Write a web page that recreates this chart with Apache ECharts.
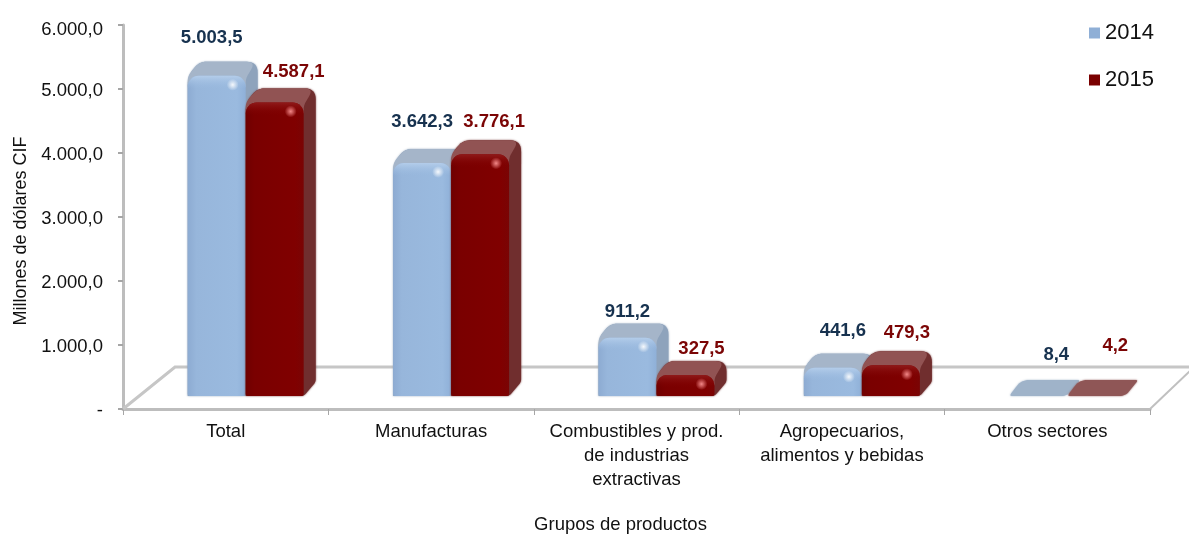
<!DOCTYPE html>
<html>
<head>
<meta charset="utf-8">
<style>html,body{margin:0;padding:0;background:#fff}#c{width:1189px;height:534px}</style>
<script src="https://cdn.jsdelivr.net/npm/echarts@6/dist/echarts.min.js"></script>
</head>
<body>
<div id="c"></div>
<script>
const categories = ['Total', 'Manufacturas', 'Combustibles y prod.\nde industrias\nextractivas', 'Agropecuarios,\nalimentos y bebidas', 'Otros sectores'];
const values2014 = [5003.5, 3642.3, 911.2, 441.6, 8.4];
const values2015 = [4587.1, 3776.1, 327.5, 479.3, 4.2];
const yTicks = { min: 0, max: 6000, interval: 1000 };

// Hand-placed data label nudges from the reference (px from the bar's front top centre)
const labelNudge2014 = [[-5, -38], [0, -41], [0, -26], [10, -37], [18, -41]];
const labelNudge2015 = [[19, -31], [14, -32], [16, -26], [16, -32], [19, -50]];

const FONT = '"Liberation Sans", Arial, sans-serif';
const DEPTH_X = 12, DEPTH_Y = 14, BAR_W_FRAC = 58 / 205.4, BAR_SHIFT = 20, BASE_LIFT = 13;

const fmt = v => {
  const [a, b] = v.toFixed(1).split('.');
  return a.replace(/\B(?=(\d{3})+$)/g, '.') + ',' + b;
};

// polygon with rounded corners, sampled into points
function roundPoly(pts, radii) {
  const out = [], n = pts.length;
  for (let i = 0; i < n; i++) {
    const p = pts[i], a = pts[(i + n - 1) % n], b = pts[(i + 1) % n];
    const la = Math.hypot(a[0] - p[0], a[1] - p[1]), lb = Math.hypot(b[0] - p[0], b[1] - p[1]);
    const r = Math.min(radii[i] || 0, la / 2, lb / 2);
    if (r < 0.5) { out.push(p); continue; }
    const s = [p[0] + (a[0] - p[0]) * r / la, p[1] + (a[1] - p[1]) * r / la];
    const e = [p[0] + (b[0] - p[0]) * r / lb, p[1] + (b[1] - p[1]) * r / lb];
    for (let t = 0; t <= 1.001; t += 0.125) {
      const u = 1 - t;
      out.push([u * u * s[0] + 2 * u * t * p[0] + t * t * e[0], u * u * s[1] + 2 * u * t * p[1] + t * t * e[1]]);
    }
  }
  return out;
}

const lin = (x, y, x2, y2, stops) => new echarts.graphic.LinearGradient(x, y, x2, y2, stops.map(s => ({ offset: s[0], color: s[1] })));

function barRenderer(pal, side, nudges) {
  return function (params, api) {
    const i = api.value(0), v = api.value(1);
    const c = api.coord([i, 0]), t = api.coord([i, v]);
    const w = api.size([1, 0])[0] * BAR_W_FRAC;
    const yb = c[1] - BASE_LIFT, yt = yb - (c[1] - t[1]);
    const x0 = side < 0 ? c[0] + BAR_SHIFT - w : c[0] + BAR_SHIFT;
    const x1 = x0 + w, h = yb - yt;
    const kids = [];
    if (h < 3) {
      const dy = DEPTH_Y + 2;
      kids.push({
        type: 'polygon',
        shape: { points: roundPoly([[x0, yb], [x0 + DEPTH_X, yb - dy], [x1 + DEPTH_X + 1, yb - dy], [x1, yb]], [3, 8, 3, 6]) },
        style: { fill: pal.flat, shadowBlur: 2, shadowColor: pal.flat }
      });
    } else {
      const r = Math.min(11, h / 2);
      kids.push({
        type: 'polygon',
        shape: { points: roundPoly([[x0, yb], [x0, yt], [x0 + DEPTH_X, yt - DEPTH_Y], [x1 + DEPTH_X, yt - DEPTH_Y], [x1 + DEPTH_X, yb - DEPTH_Y], [x1, yb]], [0, 12, 7, 11, 3, 3]) },
        style: { fill: pal.side, shadowBlur: 2, shadowColor: pal.side }
      });
      kids.push({
        type: 'polygon',
        shape: { points: roundPoly([[x0, yt + r], [x0, yt], [x0 + DEPTH_X, yt - DEPTH_Y], [x1 + DEPTH_X - 2, yt - DEPTH_Y], [x1, yt + 3], [x1, yt + r]], [0, 12, 7, 9, 5, 0]) },
        style: { fill: pal.top }
      });
      kids.push({
        type: 'rect',
        shape: { x: x0, y: yt, width: w, height: h, r: [r, r, 2, 2] },
        style: { fill: lin(0, 0, 1, 0, pal.front) }
      });
      kids.push({
        type: 'rect',
        shape: { x: x0, y: yt, width: w, height: Math.min(h, 13), r: [r, r, 0, 0] },
        style: { fill: lin(0, 0, 0, 1, pal.bevel) }
      });
      kids.push({
        type: 'circle',
        shape: { cx: x1 - 13, cy: yt + Math.min(9, h / 2), r: 6 },
        style: { fill: new echarts.graphic.RadialGradient(0.5, 0.5, 0.5, [{ offset: 0, color: pal.glint }, { offset: 1, color: pal.glint0 }]) }
      });
    }
    const n = nudges[i];
    kids.push({
      type: 'text',
      z2: 50,
      style: {
        text: fmt(v), x: (x0 + x1) / 2 + n[0], y: yt + n[1],
        align: 'center', verticalAlign: 'middle',
        fill: pal.label, font: 'bold 18.5px ' + FONT
      }
    });
    return { type: 'group', children: kids };
  };
}

const bluePal = {
  flat: '#9fb3c9', side: '#8ea3bc', top: '#a5b5c9',
  front: [[0, '#8dabd2'], [0.15, '#97b6db'], [0.85, '#9abadf'], [1, '#8fb0d8']],
  bevel: [[0, '#b4cdea'], [1, 'rgba(155,187,224,0)']],
  glint: 'rgba(255,255,255,0.9)', glint0: 'rgba(255,255,255,0)', label: '#17324f'
};
const redPal = {
  flat: '#8f5656', side: '#702e2e', top: '#915353',
  front: [[0, '#6f0000'], [0.15, '#7a0000'], [0.85, '#800000'], [1, '#7a0404']],
  bevel: [[0, '#8f1a1a'], [1, 'rgba(128,0,0,0)']],
  glint: 'rgba(255,150,150,0.9)', glint0: 'rgba(255,150,150,0)', label: '#7b0505'
};

const chart = echarts.init(document.getElementById('c'), null, { renderer: 'canvas' });
chart.setOption({
  animation: false,
  backgroundColor: '#fff',
  grid: { left: 123, right: 39, top: 25, bottom: 125, containLabel: false, outerBoundsMode: 'none' },
  legend: {
    data: ['2014', '2015'], orient: 'vertical', left: 1084, top: 17, itemWidth: 11, itemHeight: 11,
    itemGap: 25, icon: 'rect', selectedMode: false,
    textStyle: { fontFamily: FONT, fontSize: 22, color: '#111', padding: [0, 0, 0, 0] }
  },
  xAxis: {
    type: 'category', data: categories, boundaryGap: true,
    axisLine: { lineStyle: { color: '#bdbdbd', width: 3 } },
    axisTick: { show: true, alignWithLabel: false, length: 6, lineStyle: { color: '#a6a6a6', width: 1 } },
    axisLabel: { interval: 0, margin: 11, fontFamily: FONT, fontSize: 18.5, lineHeight: 24, color: '#111' },
    name: 'Grupos de productos', nameLocation: 'middle', nameGap: 106,
    nameTextStyle: { fontFamily: FONT, fontSize: 18.5, color: '#111', padding: [0, 32, 0, 0] }
  },
  yAxis: {
    type: 'value', min: yTicks.min, max: yTicks.max, interval: yTicks.interval,
    splitLine: { show: false },
    axisLine: { show: true, lineStyle: { color: '#bdbdbd', width: 3 } },
    axisTick: { show: true, length: 5, lineStyle: { color: '#a6a6a6', width: 2 } },
    axisLabel: {
      margin: 20, fontFamily: FONT, fontSize: 18.5, color: '#111', padding: [3, 0, 0, 0],
      formatter: v => v === 0 ? '-' : (v === yTicks.max ? '{top|' + fmt(v) + '}' : fmt(v)),
      rich: { top: { fontFamily: FONT, fontSize: 18.5, color: '#111', padding: [7, 0, 0, 0] } }
    },
    name: 'Millones de dólares CIF', nameLocation: 'middle', nameGap: 87,
    nameTextStyle: { fontFamily: FONT, fontSize: 18, color: '#111', padding: [0, 28, 0, 0] }
  },
  series: [
    {
      type: 'custom', name: 'floor', silent: true, z: 1, clip: false, legendHoverLink: false,
      data: [[0, 0]],
      renderItem: function (params, api) {
        const cs = params.coordSys, l = cs.x, r = cs.x + cs.width, b = cs.y + cs.height;
        return {
          type: 'polyline',
          shape: { points: [[l, b], [l + 52, b - 42], [r + 60, b - 42]] },
          style: { stroke: '#c6c6c6', lineWidth: 3, fill: null }
        };
      }
    },
    {
      type: 'custom', name: 'floorRight', silent: true, z: 1, clip: false,
      data: [[0, 0]],
      renderItem: function (params, api) {
        const cs = params.coordSys, r = cs.x + cs.width, b = cs.y + cs.height;
        return {
          type: 'polyline',
          shape: { points: [[r, b], [r + 40, b - 38]] },
          style: { stroke: '#c0c0c0', lineWidth: 2, fill: null }
        };
      }
    },
    {
      type: 'custom', name: '2014', z: 3, clip: false,
      itemStyle: { color: '#8fafd6' },
      data: values2014.map((v, i) => [i, v]),
      encode: { x: 0, y: 1 },
      renderItem: barRenderer(bluePal, -1, labelNudge2014)
    },
    {
      type: 'custom', name: '2015', z: 4, clip: false,
      itemStyle: { color: '#7a0000' },
      data: values2015.map((v, i) => [i, v]),
      encode: { x: 0, y: 1 },
      renderItem: barRenderer(redPal, 1, labelNudge2015)
    }
  ]
});
</script>
</body>
</html>
